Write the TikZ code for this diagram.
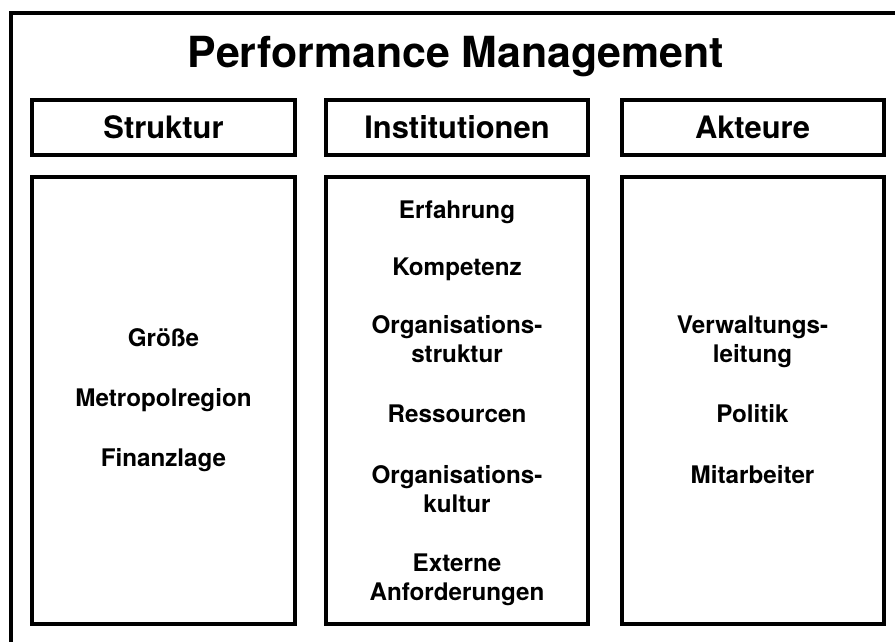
\documentclass[tikz,border=0pt]{standalone}
\usepackage{fontspec}
\setmainfont{TeX Gyre Heros}
\usetikzlibrary{positioning}

\begin{document}
\begin{tikzpicture}[x=1bp,y=-1bp,
  frame/.style={draw,line width=4bp},
  headbox/.style={frame,minimum width=262bp,minimum height=55bp,inner sep=0pt,
    font=\fontsize{31}{36}\selectfont\bfseries},
  colbox/.style={frame,minimum width=262bp,minimum height=447bp,inner sep=0pt},
  item/.style={font=\fontsize{24.3}{28.5}\selectfont\bfseries,align=center,anchor=base}]
  \useasboundingbox (0,0) rectangle (895,642);
  \clip (0,0) rectangle (895,642);
  \draw[frame] (11,13) rectangle (910,660);
  \node[anchor=base,font=\fontsize{43}{50}\selectfont\bfseries] (title) at (456,68) {Performance Management};

  % headers
  \node[headbox] (struktur) at (163.5,127.5) {Struktur};
  \node[headbox] (institutionen) at (457,127.5) {Institutionen};
  \node[headbox] (akteure) at (752.5,127.5) {Akteure};

  % columns
  \node[colbox] (strukturbox) at (163.5,400.5) {};
  \node[colbox] (institutionenbox) at (457,400.5) {};
  \node[colbox] (akteurebox) at (752.5,400.5) {};

  \node[item] (groesse) at (163.5,346) {Größe};
  \node[item] (metropol) at (163.5,406) {Metropolregion};
  \node[item] (finanz) at (163.5,466) {Finanzlage};

  \node[item] (erfahrung) at (457,219) {Erfahrung};
  \node[item] (kompetenz) at (457,275) {Kompetenz};
  \node[item] (orgstruktur) at (457,362) {Organisations-\\struktur};
  \node[item] (ressourcen) at (457,422) {Ressourcen};
  \node[item] (orgkultur) at (457,512) {Organisations-\\kultur};
  \node[item] (extern) at (457,600) {Externe\\Anforderungen};

  \node[item] (leitung) at (752.5,362) {Verwaltungs-\\leitung};
  \node[item] (politik) at (752.5,422) {Politik};
  \node[item] (mitarbeiter) at (752.5,483) {Mitarbeiter};
\end{tikzpicture}
\end{document}
